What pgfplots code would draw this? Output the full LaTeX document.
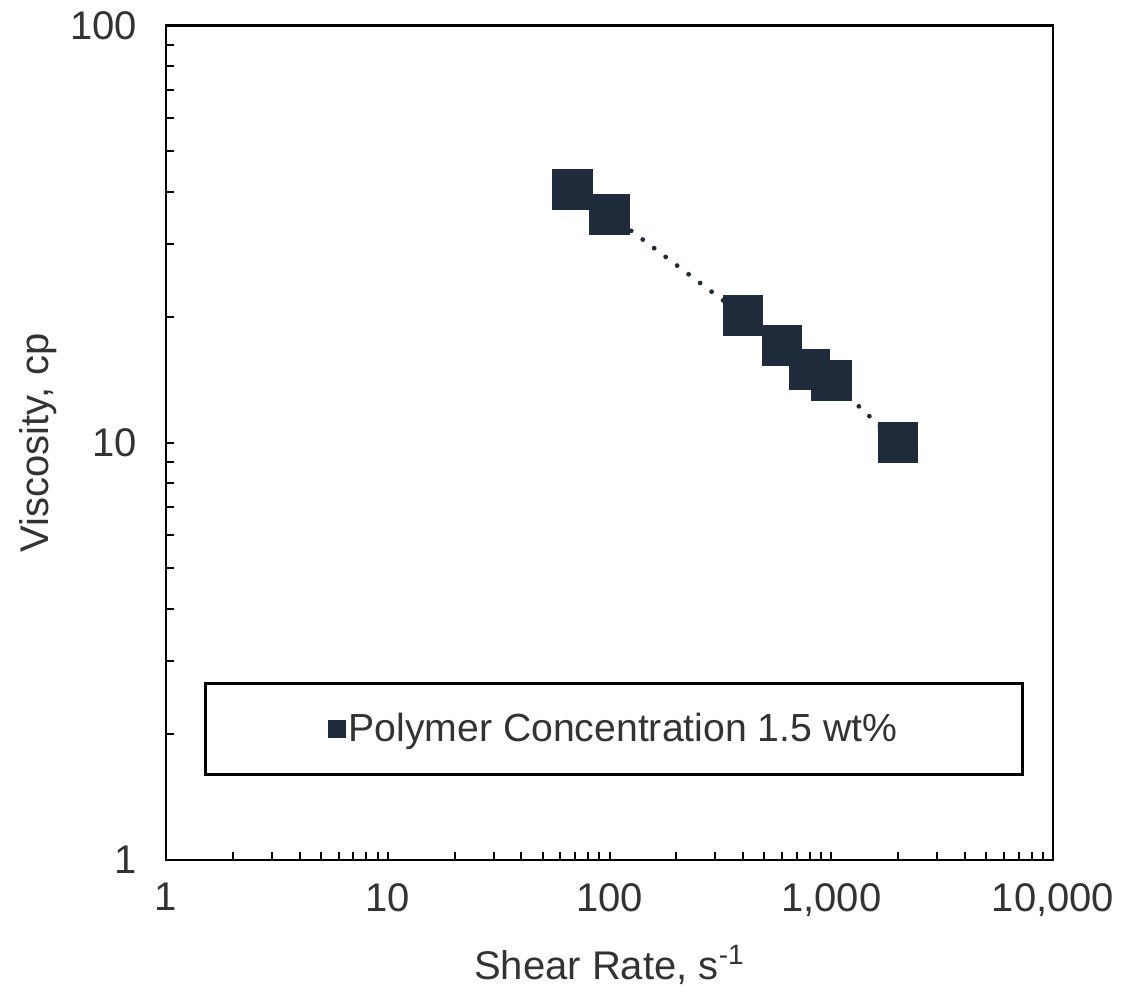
\documentclass[border=0pt]{standalone}
\usepackage{fontspec}
\setmainfont{Liberation Sans}
\usepackage{pgfplots}
\pgfplotsset{compat=1.18}
\definecolor{mc}{HTML}{1F2A3A}
\definecolor{txt}{HTML}{333333}
\begin{document}
\begin{tikzpicture}
\useasboundingbox (-83pt,-66pt) rectangle (478.5pt,430pt);
\begin{axis}[
  scale only axis,
  width=443.5pt, height=417.15pt,
  xmode=log, ymode=log,
  xmin=1, xmax=10000, ymin=1, ymax=100,
  axis line style={black, line width=1.25pt},
  tick style={black, line width=1pt},
  major tick length=4pt, minor tick length=4pt,
  tick align=inside,
  xtick pos=left, ytick pos=left,
  xtick={1,10,100,1000,10000},
  xticklabels={1,10,100,{1,000},{10,000}},
  ytick={1,10,100},
  yticklabels={1,10,100},
  /pgf/number format/assume math mode=true,
  ticklabel style={font=\fontsize{20}{24}\selectfont, text=txt},
  xticklabel style={yshift=-8pt},
  yticklabel style={xshift=-11pt},
  xlabel={Shear Rate, s\textsuperscript{-1}},
  ylabel={Viscosity, cp},
  label style={font=\fontsize{20}{24}\selectfont, text=txt},
  xlabel style={at={(axis description cs:0.5,-0.1438)}, anchor=base},
  ylabel style={at={(axis description cs:-0.133,0.5)}, anchor=base},
  legend style={at={(axis description cs:0.505,0.157)}, anchor=center,
    draw=black, line width=1.25pt, font=\fontsize{19.6}{23.5}\selectfont,
    text=txt, inner xsep=61.5pt, inner ysep=13pt,
    nodes={inner xsep=1pt}},
]
\addplot[color=mc, line width=2.4pt, line cap=round, dash pattern=on 0pt off 7.2pt,
  mark=square*, mark size=9pt, mark options={solid, fill=mc, draw=none},
  legend image code/.code={\path[fill=mc, draw=none, solid, line width=0pt] (-4.5pt,-4.5pt) rectangle (4.5pt,4.5pt);}]
  coordinates {(68,40.5) (100,35.3) (400,20.2) (600,17.1) (800,15.0) (1000,14.1) (2000,10.0)};
\addlegendentry{Polymer Concentration 1.5 wt\%}
\end{axis}
\end{tikzpicture}
\end{document}
